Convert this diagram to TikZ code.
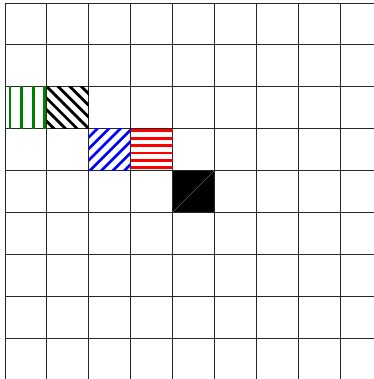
\documentclass[tikz,border=0pt]{standalone}
\definecolor{hgreen}{RGB}{0,128,0}
\begin{document}
\begin{tikzpicture}[x=0.023881cm,y=-0.023881cm,
  gridline/.style={line width=0.6pt, black!85},
  hatch/.style={line width=1.9pt}]
\useasboundingbox (0,0) rectangle (374,379);
\clip (0,0) rectangle (374,379);
% grid
\foreach \i in {0,...,9}{
  \draw[gridline] ({5+41.875*\i},3) -- ({5+41.875*\i},390);
  \draw[gridline] (5,{3+41.875*\i}) -- (390,{3+41.875*\i});
}
% green vertical lines (col 0, row 2)
\begin{scope}
  \clip (5,86.75) rectangle (46.875,128.625);
  \foreach \x in {10,21.6,33.2,44.8}
    \draw[hatch,hgreen] (\x,80) -- (\x,135);
\end{scope}
% black north west lines (col 1, row 2)
\begin{scope}
  \clip (46.875,86.75) rectangle (88.75,128.625);
  \foreach \k in {-4,...,4}
    \draw[hatch,black] ({46.875+11.6*\k-60},{86.75-60}) -- ({46.875+11.6*\k+60},{86.75+60});
\end{scope}
% blue north east lines (col 2, row 3)
\begin{scope}
  \clip (88.75,128.625) rectangle (130.625,170.5);
  \foreach \k in {-1,...,7}
    \draw[hatch,blue] ({88.75+8.6+11.5*\k+60},{128.625-60}) -- ({88.75+8.6+11.5*\k-60},{128.625+60});
\end{scope}
% red horizontal lines (col 3, row 3)
\begin{scope}
  \clip (130.625,128.625) rectangle (172.5,170.5);
  \foreach \k in {0,...,5}
    \draw[hatch,red] (125,{130.7+7.4*\k}) -- (180,{130.7+7.4*\k});
\end{scope}
% black filled cell (col 4, row 4)
\fill[black] (172.5,170.5) rectangle (214.375,212.375);
\draw[black!55,line width=0.25pt] (172.5,212.375) -- (214.375,170.5);
\end{tikzpicture}
\end{document}
